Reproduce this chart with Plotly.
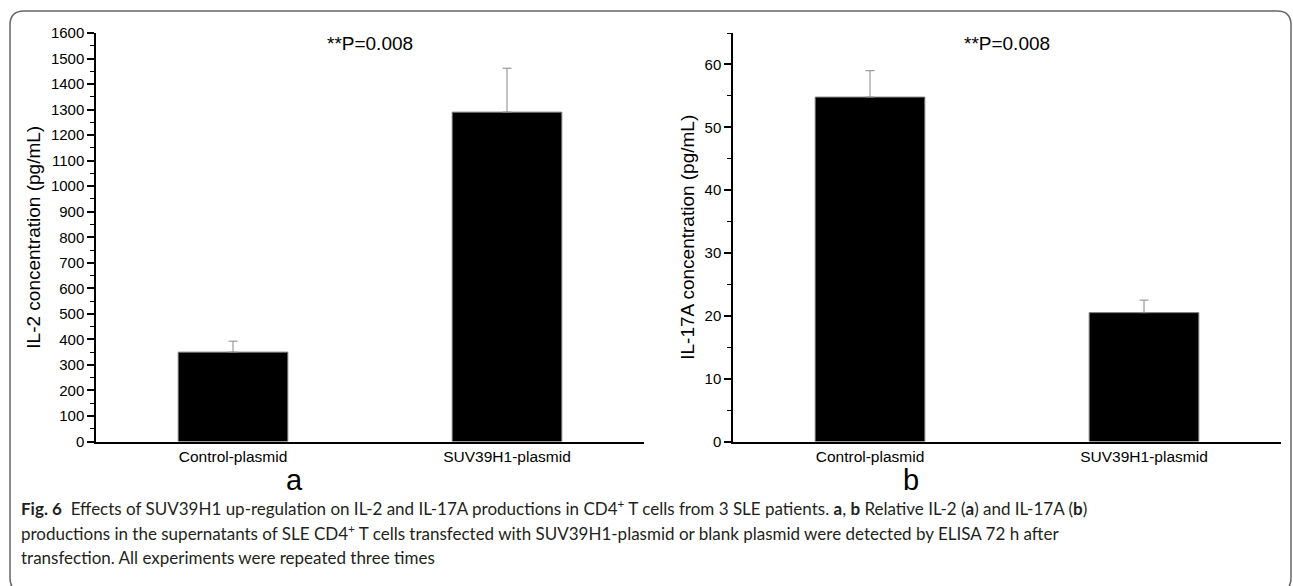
import plotly.graph_objects as go

W, H = 1293, 586

categories = ["Control-plasmid", "SUV39H1-plasmid"]
il2_values = [350, 1290]
il2_errors = [43, 172]
il17a_values = [54.8, 20.5]
il17a_errors = [4.2, 2.0]
p_text = "**P=0.008"
panel_labels = ["a", "b"]
y_titles = ["IL-2 concentration (pg/mL)", "IL-17A concentration (pg/mL)"]
caption_lines = [
    "<b>Fig. 6</b>  Effects of SUV39H1 up-regulation on IL-2 and IL-17A productions in CD4<sup>+</sup> T cells from 3 SLE patients. <b>a</b>, <b>b</b> Relative IL-2 (<b>a</b>) and IL-17A (<b>b</b>)",
    "productions in the supernatants of SLE CD4<sup>+</sup> T cells transfected with SUV39H1-plasmid or blank plasmid were detected by ELISA 72 h after",
    "transfection. All experiments were repeated three times",
]


def px(x):
    return x / W


def py(y):
    return 1 - y / H


fig = go.Figure()
bar_style = dict(marker=dict(color="black", line=dict(color="#777", width=1)), width=0.4, showlegend=False)
err_style = dict(type="data", color="#888", thickness=1, width=4.5, symmetric=False)

fig.add_trace(go.Bar(x=categories, y=il2_values, error_y=dict(array=il2_errors, arrayminus=[0, 0], **err_style),
                     xaxis="x", yaxis="y", **bar_style))
fig.add_trace(go.Bar(x=categories, y=il17a_values, error_y=dict(array=il17a_errors, arrayminus=[0, 0], **err_style),
                     xaxis="x2", yaxis="y2", **bar_style))

font_axis = dict(family="Liberation Sans, Arial", color="black")
xcommon = dict(showline=True, linecolor="black", linewidth=1.5, ticks="", range=[-0.5, 1.5],
               tickfont=dict(size=15.5, **font_axis), showgrid=False, zeroline=False, automargin=False)
ycommon = dict(showline=True, linecolor="black", linewidth=1.5, ticks="outside", ticklen=7, tickwidth=1.5,
               tickcolor="black", tickfont=dict(size=15, **font_axis), showgrid=False, zeroline=False,
               automargin=False, title=dict(font=dict(size=19, **font_axis), standoff=5))

ydom = [py(441.5), py(33)]
fig.update_layout(
    width=W, height=H, margin=dict(l=0, r=0, t=0, b=0, autoexpand=False),
    paper_bgcolor="white", plot_bgcolor="white",
    xaxis=dict(domain=[px(96), px(644)], anchor="y", **xcommon),
    xaxis2=dict(domain=[px(733), px(1281)], anchor="y2", **xcommon),
    yaxis=dict(domain=ydom, anchor="x", range=[0, 1600], dtick=100,
               minor=dict(dtick=50, ticks="outside", ticklen=4, tickcolor="black", tickwidth=1.2),
               **ycommon),
    yaxis2=dict(domain=ydom, anchor="x2", range=[0, 65], dtick=10,
                minor=dict(dtick=5, ticks="outside", ticklen=4, tickcolor="black", tickwidth=1.2),
                **ycommon),
    bargap=0.6,
)
fig.layout.yaxis.title.text = y_titles[0]
fig.layout.yaxis2.title.text = y_titles[1]

# p-value annotations
fig.add_annotation(x=0.5, y=1557, xref="x", yref="y", text=p_text, showarrow=False,
                   font=dict(size=19, **font_axis), xanchor="center", yanchor="middle")
fig.add_annotation(x=0.5, y=63.4, xref="x2", yref="y2", text=p_text, showarrow=False,
                   font=dict(size=19, **font_axis), xanchor="center", yanchor="middle")

# panel labels
fig.add_annotation(x=px(284), y=py(480), xref="paper", yref="paper", text=panel_labels[0], showarrow=False,
                   font=dict(size=29, **font_axis), yanchor="middle")
fig.add_annotation(x=px(921), y=py(480), xref="paper", yref="paper", text=panel_labels[1], showarrow=False,
                   font=dict(size=29, **font_axis), yanchor="middle")

# caption
cap_font = dict(family="Lato, Open Sans, sans-serif", size=17, color="#231f20")
for i, (line, yy) in enumerate(zip(caption_lines, [507, 532, 557])):
    fig.add_annotation(x=px(19), y=py(yy), xref="paper", yref="paper", text=line, showarrow=False,
                       xanchor="left", yanchor="middle", align="left", font=cap_font)

# rounded border
x0, y0, x1, y1, r = 10, 11, 1291, 592, 14
path = (f"M {px(x0 + r)},{py(y0)} L {px(x1 - r)},{py(y0)} Q {px(x1)},{py(y0)} {px(x1)},{py(y0 + r)} "
        f"L {px(x1)},{py(y1 - r)} Q {px(x1)},{py(y1)} {px(x1 - r)},{py(y1)} "
        f"L {px(x0 + r)},{py(y1)} Q {px(x0)},{py(y1)} {px(x0)},{py(y1 - r)} "
        f"L {px(x0)},{py(y0 + r)} Q {px(x0)},{py(y0)} {px(x0 + r)},{py(y0)} Z")
fig.add_shape(type="path", path=path, xref="paper", yref="paper", line=dict(color="#666", width=1.5))

fig.write_html("out.html", config={"displayModeBar": False},
               post_script="document.body.style.margin='0';document.body.style.overflow='hidden';")
